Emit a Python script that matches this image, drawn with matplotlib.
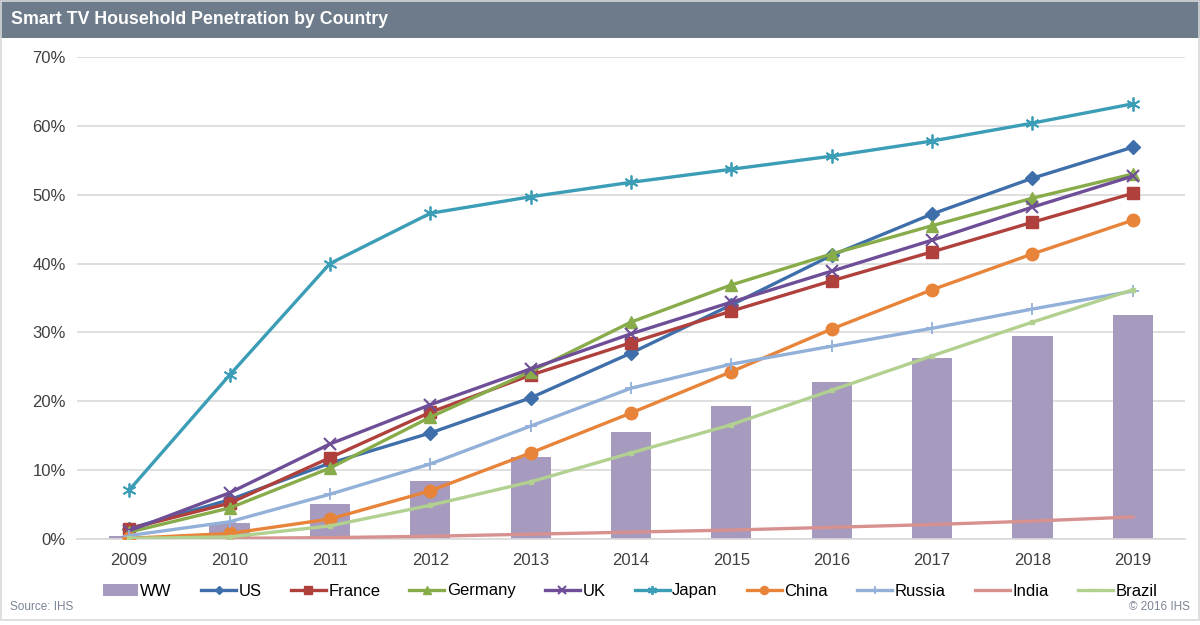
import numpy as np
import matplotlib.pyplot as plt
from matplotlib.patches import Rectangle

plt.rcParams['font.family'] = ['Liberation Sans', 'DejaVu Sans']

years = ['2009', '2010', '2011', '2012', '2013', '2014', '2015', '2016', '2017', '2018', '2019']

ww = [0.5, 2.3, 5.1, 8.4, 11.9, 15.5, 19.3, 22.8, 26.3, 29.5, 32.5]
us = [1.5, 5.7, 11.0, 15.4, 20.5, 27.0, 34.0, 41.2, 47.2, 52.4, 56.9]
france = [1.5, 5.2, 11.8, 18.4, 23.8, 28.5, 33.1, 37.5, 41.7, 46.0, 50.2]
germany = [1.0, 4.5, 10.3, 17.7, 24.3, 31.5, 36.9, 41.4, 45.5, 49.5, 53.0]
uk = [1.2, 6.7, 13.8, 19.5, 24.7, 29.8, 34.4, 38.9, 43.4, 48.2, 52.7]
japan = [7.1, 23.8, 40.0, 47.3, 49.7, 51.8, 53.7, 55.6, 57.8, 60.4, 63.2]
china = [0.1, 0.8, 2.9, 7.0, 12.5, 18.3, 24.3, 30.5, 36.2, 41.4, 46.3]
russia = [0.5, 2.5, 6.5, 10.9, 16.4, 21.9, 25.4, 28.0, 30.6, 33.4, 36.0]
india = [0.0, 0.1, 0.2, 0.4, 0.7, 1.0, 1.3, 1.7, 2.1, 2.6, 3.2]
brazil = [0.1, 0.3, 1.9, 4.9, 8.3, 12.5, 16.6, 21.6, 26.6, 31.5, 36.2]

x = np.arange(len(years))

fig = plt.figure(figsize=(12, 6.25), dpi=100)
fig.patch.set_facecolor('white')

# title bar + frame
fig.patches.append(Rectangle((0, 1 - 38 / 625), 1, 38 / 625, transform=fig.transFigure,
                             facecolor='#6D7B8B', edgecolor='none', zorder=0))
fig.patches.append(Rectangle((0.001, 0.008), 0.998, 0.99, transform=fig.transFigure,
                             facecolor='none', edgecolor='#D9D9D9', lw=1.2, zorder=0))
fig.text(11 / 1200, 1 - 20 / 625, 'Smart TV Household Penetration by Country',
         color='white', fontsize=12.8, fontweight='bold', va='center', ha='left')

ax = fig.add_axes([77 / 1200, 1 - 539 / 625, (1185 - 77) / 1200, (539 - 57) / 625])

bars = ax.bar(x, ww, width=0.4, color='#A69ABE', label='WW', zorder=2)

lw = 2.4
lines = []
lines += ax.plot(x, us, color='#3F6FAA', lw=lw, marker='D', ms=7, label='US', zorder=3)
lines += ax.plot(x, france, color='#B0403C', lw=lw, marker='s', ms=8, label='France', zorder=3)
lines += ax.plot(x, germany, color='#88AC4A', lw=lw, marker='^', ms=9, label='Germany', zorder=3)
lines += ax.plot(x, uk, color='#6E4E97', lw=lw, marker='x', ms=8, mew=1.5, label='UK', zorder=3)
lines += ax.plot(x, japan, color='#3B9DB6', lw=lw, marker=(6, 2, 0), ms=10, mew=1.3, label='Japan', zorder=3)
lines += ax.plot(x, china, color='#E8833A', lw=lw, marker='o', ms=9, label='China', zorder=3)
lines += ax.plot(x, russia, color='#93B0D8', lw=lw, marker='+', ms=9, mew=1.3, label='Russia', zorder=3)
lines += ax.plot(x, india, color='#D7918F', lw=lw, label='India', zorder=3)
lines += ax.plot(x, brazil, color='#B2D08F', lw=lw, marker='s', ms=3, label='Brazil', zorder=3)

ax.set_xlim(-0.52, 10.52)
ax.set_ylim(0, 70)
ax.set_yticks(np.arange(0, 71, 10))
ax.set_yticklabels(['%d%%' % v for v in range(0, 71, 10)])
ax.set_xticks(x)
ax.set_xticklabels(years)
ax.tick_params(axis='both', length=0, labelsize=12, colors='#404040', pad=8)
ax.tick_params(axis='x', pad=10)
ax.grid(axis='y', color='#D9D9D9', lw=1.2, zorder=0)
ax.set_axisbelow(True)
for s in ['top', 'right', 'left']:
    ax.spines[s].set_visible(False)
ax.spines['bottom'].set_color('#D9D9D9')
ax.spines['bottom'].set_linewidth(1.2)

handles = [bars] + lines
fig.legend(handles, [h.get_label() for h in handles], loc='center',
           bbox_to_anchor=(630 / 1200, 1 - 591 / 625), ncol=10, frameon=False,
           fontsize=12, handlelength=2.1, handletextpad=0.15, columnspacing=1.75,
           markerscale=0.65)

fig.text(10 / 1200, 1 - 607 / 625, 'Source: IHS', color='#7A8595', fontsize=8.5, va='center')
fig.text(1190 / 1200, 1 - 607 / 625, '\u00a9 2016 IHS', color='#7A8595', fontsize=8.5,
         va='center', ha='right')

fig.savefig('out.png', dpi=100)
